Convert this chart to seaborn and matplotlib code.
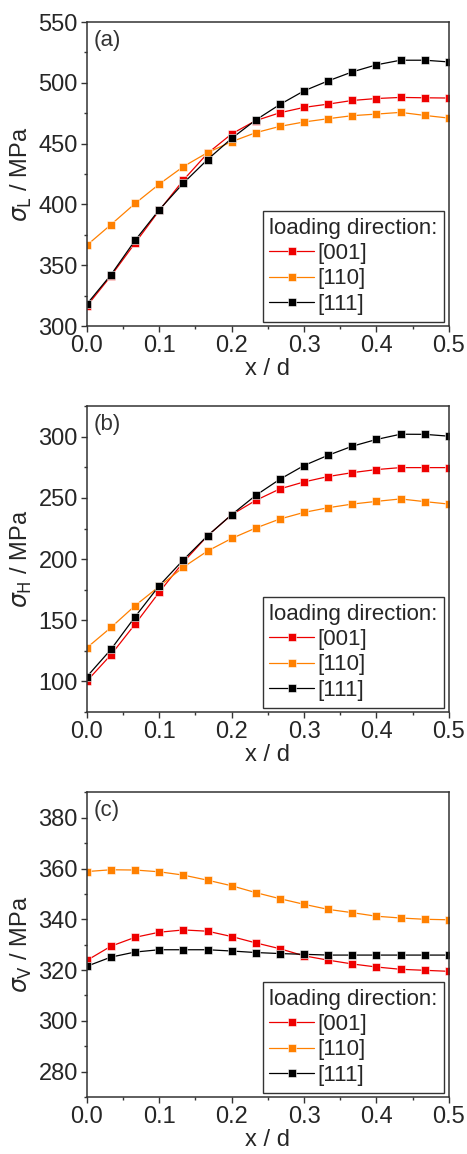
import numpy as np
import pandas as pd
import matplotlib
matplotlib.use("Agg")
import matplotlib.pyplot as plt
from matplotlib.ticker import MultipleLocator
import seaborn as sns

# x / d positions
x_d = [0.0, 0.0333, 0.0667, 0.1, 0.1333, 0.1667, 0.2, 0.2333,
       0.2667, 0.3, 0.3333, 0.3667, 0.4, 0.4333, 0.4667, 0.5]
directions = ["[001]", "[110]", "[111]"]
colors = {"[001]": "#ee0000", "[110]": "#ff8000", "[111]": "#000000"}

# (a) sigma_L
sl_001 = [316.4, 341.2, 368.3, 395.0, 420.0, 442.0, 458.0, 468.9,
          475.4, 479.8, 482.5, 485.5, 487.1, 488.0, 487.7, 487.5]
sl_110 = [366.4, 383.4, 400.8, 416.7, 431.1, 442.6, 451.6, 459.0,
          464.2, 467.8, 470.5, 473.0, 474.3, 475.7, 473.2, 471.0]
sl_111 = [318.0, 342.1, 370.5, 395.6, 417.5, 436.9, 454.3, 469.4,
          482.2, 493.4, 501.6, 509.0, 514.8, 518.6, 518.6, 517.2]

# (b) sigma_H
sh_001 = [100.3, 121.8, 146.9, 173.0, 197.5, 219.0, 236.3, 248.0,
          257.4, 263.1, 267.5, 270.7, 273.2, 274.8, 274.8, 274.8]
sh_110 = [127.5, 144.1, 162.0, 177.7, 193.4, 206.6, 216.9, 225.4,
          232.8, 238.2, 242.0, 245.0, 247.2, 249.2, 247.0, 245.0]
sh_111 = [103.9, 126.2, 152.9, 178.3, 199.4, 219.1, 236.3, 252.1,
          265.3, 276.5, 284.9, 292.3, 297.8, 302.1, 302.0, 300.5]

# (c) sigma_V
sv_001 = [323.8, 329.4, 332.9, 334.9, 335.8, 335.3, 333.2, 330.7,
          328.4, 325.6, 323.9, 322.4, 321.2, 320.3, 319.9, 319.5]
sv_110 = [358.8, 359.5, 359.4, 358.7, 357.4, 355.4, 353.2, 350.5,
          348.1, 345.9, 343.9, 342.6, 341.2, 340.5, 340.0, 339.8]
sv_111 = [321.5, 325.1, 327.1, 328.0, 328.0, 328.0, 327.5, 326.9,
          326.5, 326.2, 325.9, 325.9, 325.9, 325.9, 325.9, 325.9]

panels = [
    ("(a)", r"$\sigma_{\mathrm{L}}$ / MPa", [sl_001, sl_110, sl_111], (300, 550), 50, 25),
    ("(b)", r"$\sigma_{\mathrm{H}}$ / MPa", [sh_001, sh_110, sh_111], (75, 325), 50, 25),
    ("(c)", r"$\sigma_{\mathrm{V}}$ / MPa", [sv_001, sv_110, sv_111], (270, 390), 20, 10),
]
positions = [
    [0.186, 0.7175, 0.775, 0.2634],
    [0.186, 0.383, 0.775, 0.265],
    [0.186, 0.0494, 0.775, 0.264],
]

sns.set_style("ticks")
plt.rcParams["font.family"] = ["Liberation Sans", "DejaVu Sans"]
plt.rcParams["mathtext.fontset"] = "dejavusans"

fig = plt.figure(figsize=(4.67, 11.54), dpi=100)

for (tag, ylab, series, ylim, major, minor), pos in zip(panels, positions):
    ax = fig.add_axes(pos)
    df = pd.DataFrame({
        "x": x_d * 3,
        "sigma": series[0] + series[1] + series[2],
        "dir": [d for d in directions for _ in x_d],
    })
    for d in directions:
        sub = df[df["dir"] == d]
        sns.lineplot(data=sub, x="x", y="sigma", ax=ax, color=colors[d], label=d,
                     marker="s", markersize=6, markeredgecolor="white",
                     markeredgewidth=0.4, linewidth=0.9)
    ax.set_xlim(0, 0.5)
    ax.set_ylim(*ylim)
    ax.xaxis.set_major_locator(MultipleLocator(0.1))
    ax.xaxis.set_minor_locator(MultipleLocator(0.05))
    ax.yaxis.set_major_locator(MultipleLocator(major))
    ax.yaxis.set_minor_locator(MultipleLocator(minor))
    ax.tick_params(which="major", direction="out", length=4.5, width=1,
                   labelsize=17, color="#333333", pad=2)
    ax.tick_params(which="minor", direction="out", length=2.5, width=1, color="#333333")
    for s in ax.spines.values():
        s.set_visible(True)
        s.set_color("#333333")
        s.set_linewidth(1.1)
    ax.set_xlabel("x / d", fontsize=17, labelpad=1)
    ax.set_ylabel(ylab, fontsize=17, labelpad=3)
    ax.text(0.02, 0.975, tag, transform=ax.transAxes, fontsize=16,
            ha="left", va="top", color="#333333")
    leg = ax.legend(loc="lower right", title="loading direction:", alignment="left",
                    fontsize=16, title_fontsize=16, frameon=True, fancybox=False,
                    edgecolor="#333333", framealpha=1, borderaxespad=0.2,
                    handlelength=2.0, handletextpad=0.15, labelspacing=0.2,
                    borderpad=0.3)
    leg.get_frame().set_linewidth(1.0)

fig.savefig("out.png", dpi=100)
